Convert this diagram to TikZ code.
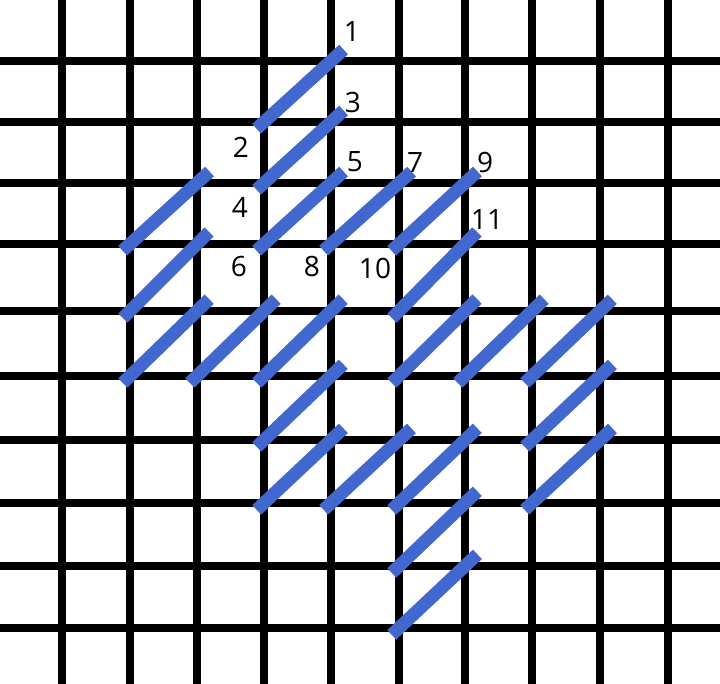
\documentclass[tikz,border=0pt]{standalone}
\usepackage{fontspec}
\setmainfont{Open Sans}
\definecolor{stitchblue}{RGB}{66,104,208}

\begin{document}
\begin{tikzpicture}[x=1pt,y=-1pt]
	\tikzstyle{thread}=[line width=8.5pt, black]
	\tikzstyle{st}=[line width=13pt, stitchblue, shorten <=-10pt, shorten >=-17pt]
	\tikzstyle{num}=[font=\fontsize{28}{28}\selectfont, inner sep=0pt]

	\useasboundingbox (0,0) rectangle (720,684);

	% canvas threads
	\foreach \x in {62,130,197,264,331,399,465,532,600,668}
	\draw [thread] (\x,0) -- (\x,684);
	\foreach \y in {61,122,183,244,311,376,440,503,566,628}
	\draw [thread] (0,\y) -- (720,\y);

	% holes between threads
	\foreach \i/\x in {0/62,1/130,2/197,3/264,4/331,5/399,6/465,7/532,8/600,9/668}
	\foreach \j/\y in {0/61,1/122,2/183,3/244,4/311,5/376,6/440,7/503,8/566,9/628}
	\coordinate (p\i\j) at (\x,\y);

	% stitches
	\foreach \from/\to in {31/40,32/41,33/42,43/52,53/62,54/63,
		13/22,14/23,15/24,25/34,35/44,55/64,65/74,75/84,
		36/45,76/85,37/46,47/56,57/66,77/86,58/67,59/68}
	\draw [st] (p\from) -- (p\to);

	% numbers
	\foreach \n/\x/\y in {1/352/32,2/241/147,3/353/103,4/240/207,5/355/162,6/239/267,
		7/415/163,8/312/267,9/485/163,10/375/268,11/487/220}
	\node[num] (n\n) at (\x,\y) {\n};
\end{tikzpicture}
\end{document}
